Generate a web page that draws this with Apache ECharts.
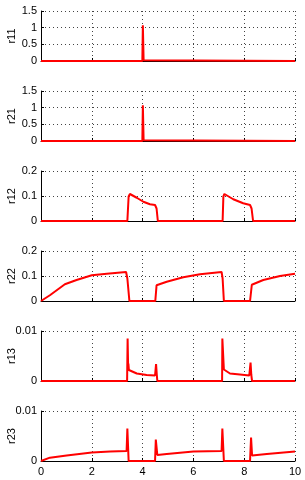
<!DOCTYPE html>
<html><head><meta charset="utf-8">
<script src="https://cdn.jsdelivr.net/npm/echarts@6/dist/echarts.min.js"></script>
<style>html,body{margin:0;padding:0;background:#fff}#c{width:305px;height:480px}</style>
</head><body><div id="c"></div>
<script>
// ---- data ----
var names = ['r11','r21','r12','r22','r13','r23'];
var yMax = [1.5, 1.5, 0.2, 0.2, 0.01, 0.01];
var yInterval = [0.5, 0.5, 0.1, 0.1, 0.01, 0.01];
var xTicks = [0, 2, 4, 6, 8, 10];

var t11 = [0, 3.99, 4.01, 4.04, 4.07, 10];
var v11 = [0, 0, 1.07, 0.02, 0, 0];
var t21 = [0, 3.99, 4.01, 4.04, 4.07, 10];
var v21 = [0, 0, 1.07, 0.02, 0, 0];

var t12 = [0, 3.40, 3.45, 3.50, 3.77, 4.03, 4.29, 4.49, 4.55, 4.60, 7.15, 7.18, 7.22, 7.57, 7.96, 8.23, 8.29, 8.35, 10];
var v12 = [0, 0, 0.098, 0.108, 0.093, 0.077, 0.067, 0.064, 0.050, 0, 0, 0.098, 0.108, 0.087, 0.071, 0.064, 0.050, 0, 0];

var t22 = [0, 0.35, 0.94, 1.40, 2.0, 2.59, 3.35, 3.40, 3.48, 4.50, 4.55, 4.95, 5.6, 6.26, 7.11, 7.15, 7.20, 8.23, 8.30, 8.75, 9.41, 10];
var v22 = [0, 0.023, 0.067, 0.084, 0.103, 0.109, 0.116, 0.090, 0, 0, 0.063, 0.077, 0.095, 0.107, 0.116, 0.090, 0, 0, 0.065, 0.084, 0.100, 0.109];

var t13 = [0, 3.39, 3.41, 3.43, 3.44, 3.46, 3.50, 3.77, 4.16, 4.49, 4.53, 4.56, 4.58, 7.13, 7.14, 7.20, 7.44, 7.83, 8.20, 8.25, 8.28, 8.31, 10];
var v13 = [0, 0, 0.0085, 0.0030, 0.0035, 0.0022, 0.0019, 0.0015, 0.0012, 0.0011, 0.0034, 0.0012, 0, 0, 0.0085, 0.0023, 0.0015, 0.0013, 0.0011, 0.0037, 0.0012, 0, 0];

var t23 = [0, 0.35, 1.01, 2.0, 2.72, 3.37, 3.40, 3.45, 4.49, 4.52, 4.58, 4.95, 6.0, 7.11, 7.14, 7.20, 8.23, 8.27, 8.31, 8.89, 10];
var v23 = [0, 0.00067, 0.0011, 0.0017, 0.0019, 0.0020, 0.0065, 0, 0, 0.0043, 0.0012, 0.0014, 0.0019, 0.0020, 0.0065, 0, 0, 0.0047, 0.0011, 0.0014, 0.0019];

var times = [t11, t21, t12, t22, t13, t23];
var values = [v11, v21, v12, v22, v13, v23];

// ---- chart ----
var tops = [11, 91, 171, 251, 331, 411];
var font = 'Liberation Sans, Arial, sans-serif';
var grids = [], xAxes = [], yAxes = [], series = [];
for (var i = 0; i < 6; i++) {
  grids.push({left: 41, width: 254, top: tops[i], height: 50, containLabel: false, outerBoundsMode: 'none'});
  xAxes.push({
    type: 'value', gridIndex: i, min: 0, max: 10, interval: 2,
    axisLine: {show: true, onZero: false, lineStyle: {color: '#000', width: 1}},
    axisTick: {show: true, inside: true, length: 3, lineStyle: {color: '#000'}},
    axisLabel: {show: i === 5, color: '#000', fontSize: 11, fontFamily: font, margin: 5},
    splitLine: {show: true, lineStyle: {color: '#444', type: [1, 3], width: 1}}
  });
  yAxes.push({
    type: 'value', gridIndex: i, min: 0, max: yMax[i], interval: yInterval[i],
    name: names[i], nameLocation: 'middle', nameGap: 24, nameRotate: 90, nameMoveOverlap: false,
    nameTextStyle: {color: '#000', fontSize: 11, fontFamily: font},
    axisLine: {show: true, lineStyle: {color: '#000', width: 1}},
    axisTick: {show: true, inside: true, length: 3, lineStyle: {color: '#000'}},
    axisLabel: {color: '#000', fontSize: 11, fontFamily: font, margin: 4},
    splitLine: {show: true, lineStyle: {color: '#444', type: [1, 3], width: 1}}
  });
  var d = [];
  for (var k = 0; k < times[i].length; k++) d.push([times[i][k], values[i][k]]);
  series.push({
    type: 'line', xAxisIndex: i, yAxisIndex: i, data: d,
    showSymbol: false, clip: true,
    lineStyle: {color: '#ff0000', width: 2}
  });
}
var chart = echarts.init(document.getElementById('c'), null, {renderer: 'canvas'});
chart.setOption({animation: false, grid: grids, xAxis: xAxes, yAxis: yAxes, series: series});
</script>
</body></html>
